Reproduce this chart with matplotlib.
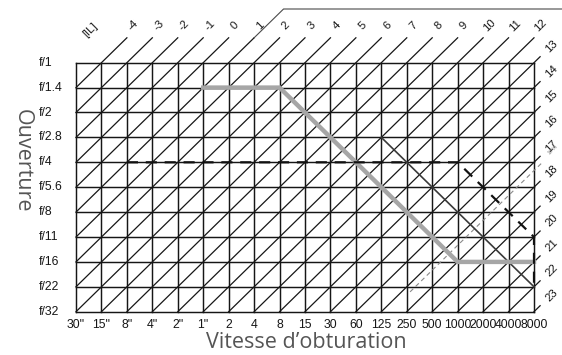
import matplotlib.pyplot as plt

plt.rcParams['font.family'] = ['Liberation Sans', 'DejaVu Sans']

# shutter speeds (columns) and apertures (rows) of the exposure grid
shutter_labels = ['30"', '15"', '8"', '4"', '2"', '1"', '2', '4', '8', '15',
                  '30', '60', '125', '250', '500', '1000', '2000', '4000', '8000']
aperture_labels = ['f/1', 'f/1.4', 'f/2', 'f/2.8', 'f/4', 'f/5.6', 'f/8',
                   'f/11', 'f/16', 'f/22', 'f/32']

# EV lines leaving the grid through the top edge and through the right edge
ev_top = ['-4', '-3', '-2', '-1', '0', '1', '2', '3', '4', '5', '6', '7',
          '8', '9', '10', '11', '12']
ev_right = ['13', '14', '15', '16', '17', '18', '19', '20', '21', '22', '23']

# program lines, given as shutter speed / aperture pairs
program_speed = ['1"', '8', '1000', '8000']
program_aperture = ['f/1.4', 'f/1.4', 'f/16', 'f/16']
dashed_speed = ['8"', '1000', '8000', '8000']
dashed_aperture = ['f/4', 'f/4', 'f/11', 'f/22']
thin_speed = ['125', '8000']
thin_aperture = ['f/2.8', 'f/22']
ev_limit = 17 + 1 / 3
ev_limit_label = '17\u2153'
ev_bracket = '1'

n_cols = len(shutter_labels) - 1
n_rows = len(aperture_labels) - 1
ev_origin = int(ev_top[0]) - 1   # EV at f/1, 30"


def col(s):
    return shutter_labels.index(s)


def row(a):
    return aperture_labels.index(a)


fig = plt.figure(figsize=(5.62, 3.55), dpi=100)
ax = fig.add_axes([0, 0, 1, 1])
ax.axis('off')

# grid box in pixels: x 76..534, y 62.7..311.7
cw = (534 - 76) / n_cols
rh = (311.7 - 62.7) / n_rows
xmin, xmax = -76 / cw, n_cols + (562 - 534) / cw
ax.set_xlim(xmin, xmax)
ax.set_ylim(n_rows + (355 - 311.7) / rh, -62.7 / rh)

ink = '#161616'
fs = 8.2
fs_axis = 8.8
for r in range(n_rows + 1):
    ax.plot([0, n_cols], [r, r], color=ink, lw=1.05, zorder=2)
for c in range(n_cols + 1):
    ax.plot([c, c], [0, n_rows], color=ink, lw=1.05, zorder=2)

# iso-EV diagonals
for e in ev_top + ev_right:
    s = int(e) - ev_origin
    c0 = max(0, s - n_rows)
    c1 = min(n_cols, s)
    xs = [c0, c1]
    ys = [s - c0, s - c1]
    if s < n_cols:
        xs.append(c1 + 1)
        ys.append(-1)
        ax.text(c1 + 1.25, -1.5, e, rotation=45, ha='center', va='center',
                fontsize=fs, color=ink)
    else:
        xs.append(n_cols + 0.24)
        ys.append(s - n_cols - 0.24)
        ax.text(n_cols + 0.68, s - n_cols - 0.65, e, rotation=45,
                ha='center', va='center', fontsize=fs, color=ink)
    ax.plot(xs, ys, color=ink, lw=0.9, zorder=2)

ax.text(0.55, -1.31, '[IL]', rotation=45, ha='center', va='center',
        fontsize=fs, color=ink)

# bracket running off the EV 1 line along the top
sb = int(ev_bracket) - ev_origin
top_r = -53.7 / rh
ax.plot([sb + 1, sb - top_r, xmax], [-1, top_r, top_r], color='#4a4a4a',
        lw=0.8, zorder=2)

# matrix metering limit
sl = ev_limit - ev_origin
lc = [13.13, n_cols + 0.3]
ax.plot(lc, [sl - lc[0], sl - lc[1]], color='#8a8a8a', lw=0.8,
        dashes=(4, 3), zorder=3)
ax.text(n_cols + 0.75, 3.5, ev_limit_label, rotation=45, ha='center',
        va='center', fontsize=4.5, color='#8a8a8a')

ax.plot([col(s) for s in program_speed], [row(a) for a in program_aperture],
        color='#a6a6a6', lw=3.2, solid_joinstyle='miter', zorder=4)
ax.plot([col(s) for s in thin_speed], [row(a) for a in thin_aperture],
        color='#3a3a3a', lw=1.2, zorder=3)
ax.plot([col(s) for s in dashed_speed], [row(a) for a in dashed_aperture],
        color='#111111', lw=1.6, dashes=(5, 3.5), zorder=5)

for r, a in enumerate(aperture_labels):
    ax.text(-1.45, r, a, ha='left', va='center', fontsize=fs_axis, color=ink)
for c, s in enumerate(shutter_labels):
    ax.text(c, 10.53, s, ha='center', va='center', fontsize=fs_axis,
            color=ink)

ax.text((306 - 76) / cw, (342 - 62.7) / rh, 'Vitesse d\u2019obturation',
        ha='center', va='center', fontsize=15.5, color='#555555',
        family='Open Sans')
ax.text((22 - 76) / cw, (161 - 62.7) / rh, 'Ouverture', rotation=270,
        ha='center', va='center', fontsize=15.5, color='#555555',
        family='Open Sans')

fig.savefig('out.png', dpi=100)
